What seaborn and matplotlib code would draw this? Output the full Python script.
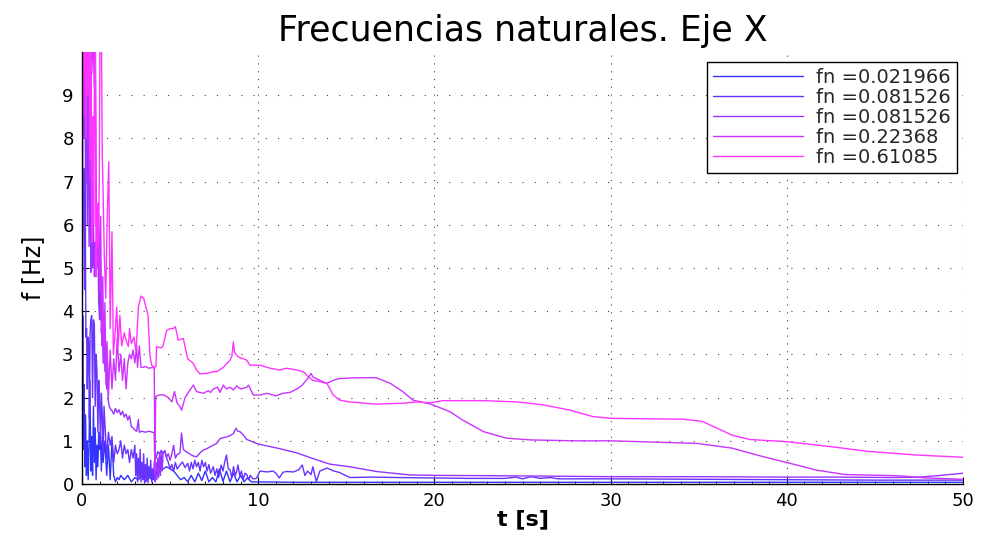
import numpy as np
import pandas as pd
import matplotlib
matplotlib.use("Agg")
import matplotlib.pyplot as plt
import seaborn as sns
from matplotlib.ticker import MultipleLocator

# ---------------- data ----------------
t1 = [0.00, 0.04, 0.08, 0.12, 0.16, 0.20, 0.25, 0.30, 0.35, 0.40, 0.45, 0.50, 0.55, 0.60,
      0.65, 0.70, 0.75, 0.80, 0.85, 0.90, 0.95, 1.00, 1.05, 1.10, 1.15, 1.20, 1.30, 1.40,
      1.50, 1.60, 1.70, 1.80, 1.90, 2.00, 2.10, 2.20, 2.40, 2.60, 2.80, 3.00, 3.20, 3.40,
      3.60, 3.80, 4.00, 4.20, 4.40, 4.60, 4.80, 5.00, 5.20, 5.40, 5.60, 5.80, 6.00, 6.20,
      6.40, 6.60, 6.80, 7.00, 7.20, 7.40, 7.60, 7.80, 8.00, 8.20, 8.40, 8.60, 8.80, 9.00,
      9.20, 9.40, 9.60, 10.0, 12.0, 14.0, 16.0, 18.0, 20.0, 25.0, 30.0, 35.0, 40.0, 45.0, 50.0]
f1 = [0.30, 3.90, 0.80, 2.30, 0.40, 1.60, 0.20, 1.00, 0.10, 0.90, 2.40, 0.30, 1.10, 0.20,
      1.80, 0.50, 1.30, 0.10, 0.90, 0.40, 1.20, 0.80, 1.00, 0.30, 1.10, 0.50, 1.00, 0.20,
      0.90, 0.10, 1.00, 0.20, 0.05, 0.15, 0.10, 0.20, 0.10, 0.20, 0.05, 0.15, 0.10, 0.20,
      0.05, 0.15, 0.10, 0.20, 0.30, 0.35, 0.40, 0.35, 0.30, 0.20, 0.10, 0.15, 0.05, 0.20,
      0.05, 0.25, 0.08, 0.30, 0.05, 0.15, 0.05, 0.35, 0.06, 0.30, 0.05, 0.25, 0.05, 0.20,
      0.05, 0.15, 0.05, 0.05, 0.04, 0.04, 0.04, 0.04, 0.04, 0.04, 0.04, 0.04, 0.04, 0.04, 0.04]

t2 = [0.00, 0.03, 0.06, 0.09, 0.12, 0.15, 0.18, 0.22, 0.26, 0.30, 0.34, 0.38, 0.42, 0.46,
      0.50, 0.55, 0.60, 0.65, 0.70, 0.75, 0.80, 0.85, 0.90, 0.95, 1.00, 1.05, 1.10, 1.15,
      1.20, 1.25, 1.30, 1.40, 1.50, 1.60, 1.70, 1.80, 1.90, 2.00, 2.10, 2.20, 2.30, 2.40,
      2.50, 2.60, 2.70, 2.80, 2.90, 3.00, 3.05, 3.10, 3.15, 3.20, 3.25, 3.30, 3.35, 3.40,
      3.45, 3.50, 3.55, 3.60, 3.65, 3.70, 3.75, 3.80, 3.85, 3.90, 3.95, 4.00, 4.05, 4.10,
      4.20, 4.30, 4.40, 4.50, 4.60, 4.70, 4.80, 4.90, 5.00, 5.10, 5.20,
      5.30, 5.40, 5.56, 5.70, 5.85, 6.00, 6.10, 6.20, 6.30, 6.40, 6.50, 6.60, 6.70, 6.80,
      6.90, 7.00, 7.10, 7.20, 7.30, 7.45, 7.55, 7.65, 7.75, 7.90, 8.00, 8.10, 8.20, 8.30,
      8.40, 8.50, 8.60, 8.70, 8.78, 8.85, 8.95, 9.05, 9.15, 9.25, 9.35, 9.45, 9.55, 9.70,
      9.90, 10.1, 10.5, 10.85, 11.0, 11.2, 11.4, 11.6, 12.0, 12.3, 12.5, 12.65, 12.8, 13.0,
      13.1, 13.3, 13.5, 13.9, 14.3, 14.6, 15.2, 16.5, 18.0, 20.0, 22.0, 24.0, 24.6, 25.0,
      25.5, 26.0, 26.6, 27.0, 30.0, 35.0, 40.0, 45.0, 50.0]
f2 = [3.40, 5.00, 7.20, 6.00, 7.30, 4.50, 7.10, 3.40, 3.60, 2.20, 3.40, 3.30, 1.50, 3.50,
      3.80, 3.90, 2.00, 3.80, 3.70, 1.80, 3.00, 2.60, 1.20, 2.40, 1.90, 0.90, 2.10, 1.60,
      0.70, 1.80, 1.40, 0.60, 1.20, 0.90, 1.10, 0.50, 0.90, 0.70, 0.80, 1.00, 0.60, 0.90,
      0.70, 0.80, 0.50, 0.80, 0.60, 0.90, 0.20, 0.70, 0.05, 0.60, 0.15, 0.80, 0.05, 0.50,
      0.10, 0.70, 0.02, 0.45, 0.10, 0.60, 0.03, 0.40, 0.15, 0.55, 0.05, 0.35, 0.10, 0.50,
      0.60, 0.75, 0.70, 0.78, 0.72, 0.75, 0.60, 0.50, 0.35, 0.45, 0.30,
      0.50, 0.35, 0.44, 0.51, 0.38, 0.48, 0.30, 0.50, 0.35, 0.55, 0.40, 0.50, 0.30, 0.55,
      0.40, 0.50, 0.30, 0.45, 0.25, 0.40, 0.20, 0.35, 0.15, 0.44, 0.30, 0.51, 0.67, 0.35,
      0.33, 0.15, 0.40, 0.20, 0.29, 0.44, 0.20, 0.30, 0.10, 0.25, 0.22, 0.10, 0.20, 0.12,
      0.13, 0.30, 0.28, 0.30, 0.25, 0.14, 0.27, 0.29, 0.28, 0.33, 0.44, 0.20, 0.30, 0.22,
      0.40, 0.06, 0.30, 0.37, 0.30, 0.27, 0.15, 0.16, 0.15, 0.14, 0.13, 0.13, 0.16, 0.12,
      0.17, 0.13, 0.15, 0.12, 0.12, 0.11, 0.10, 0.09, 0.09]

t3 = [0.00, 0.05, 0.10, 0.15, 0.20, 0.25, 0.30, 0.35, 0.40, 0.45, 0.50, 0.55, 0.60, 0.65,
      0.70, 0.75, 0.80, 0.85, 0.90, 0.95, 1.00, 1.05, 1.10, 1.15, 1.20, 1.25, 1.30, 1.35,
      1.40, 1.45, 1.50, 1.55, 1.60, 1.70, 1.80, 1.90, 2.00, 2.10, 2.20, 2.30, 2.40, 2.50,
      2.60, 2.70, 2.80, 2.90, 3.00, 3.10, 3.20, 3.25, 3.40, 3.60, 3.80, 4.00, 4.10, 4.15,
      4.20, 4.25, 4.30, 4.35, 4.40, 4.45, 4.50, 4.55, 4.60, 4.70, 4.80, 4.90, 5.00, 5.10,
      5.20, 5.30, 5.40, 5.56, 5.65,
      5.75, 5.90, 6.10, 6.30, 6.50, 6.70, 6.90, 7.10, 7.26, 7.45, 7.64, 7.83, 8.00, 8.20,
      8.40, 8.59, 8.74, 8.85, 8.97, 9.15, 9.35, 9.55, 9.90, 10.29, 11.2, 12.2, 13.1, 14.07,
      15.2, 16.7, 18.6, 20.1, 24.2, 30.0, 35.0, 40.0, 43.0, 46.0, 47.5, 48.5, 50.0]
f3 = [1.00, 10.5, 8.00, 10.5, 7.00, 9.50, 6.00, 10.5, 5.50, 8.50, 4.90, 6.50, 5.00, 6.00,
      4.80, 5.60, 5.00, 5.80, 5.60, 4.20, 3.80, 5.20, 3.50, 4.00, 2.80, 3.60, 2.60, 3.20,
      2.20, 2.80, 1.90, 1.80, 1.75, 1.70, 1.62, 1.75, 1.65, 1.72, 1.60, 1.68, 1.55, 1.62,
      1.48, 1.58, 1.33, 1.30, 1.25, 1.22, 1.49, 1.20, 1.22, 1.20, 1.22, 1.20, 1.18, 0.05,
      0.50, 0.10, 0.60, 0.15, 0.70, 0.20, 0.75, 0.30, 0.70, 0.78, 0.62, 0.70, 0.55, 0.70,
      0.90, 0.60, 0.68, 0.72, 1.18,
      0.80, 0.75, 0.70, 0.65, 0.63, 0.72, 0.79, 0.82, 0.86, 0.90, 0.94, 1.05, 1.07, 1.09,
      1.12, 1.17, 1.29, 1.22, 1.21, 1.14, 1.03, 1.00, 0.94, 0.90, 0.82, 0.72, 0.59, 0.46,
      0.40, 0.29, 0.21, 0.20, 0.19, 0.17, 0.17, 0.16, 0.16, 0.15, 0.16, 0.19, 0.25]

t4 = [0.00, 0.04, 0.08, 0.12, 0.18, 0.22, 0.30, 0.36, 0.44, 0.50, 0.56, 0.62, 0.70, 0.76,
      0.82, 0.88, 0.94, 1.00, 1.06, 1.12, 1.18, 1.24, 1.30, 1.36, 1.42, 1.50, 1.60, 1.70,
      1.80, 1.90, 2.00, 2.10, 2.20, 2.30, 2.40, 2.50, 2.60, 2.70, 2.80, 2.90, 3.00, 3.10,
      3.15, 3.25, 3.35, 3.45, 3.60, 3.80, 4.00, 4.10, 4.14, 4.18, 4.30, 4.50, 4.70, 4.90, 5.10,
      5.25, 5.40, 5.56, 5.65, 5.85, 6.10, 6.32, 6.50, 6.88, 7.16, 7.30, 7.45, 7.70, 7.83,
      8.02, 8.20, 8.40, 8.59, 8.78, 9.00, 9.35, 9.45, 9.72, 10.1, 10.5, 11.0, 11.4, 11.8,
      12.2, 12.5, 12.8, 13.0, 13.1, 13.5, 13.9, 14.26, 14.6, 15.5, 16.7, 17.5, 18.2, 18.8,
      19.8, 20.9, 21.6, 22.8, 24.1, 25.5, 28.0, 30.0, 34.9, 36.9, 38.5, 40.07, 41.7, 43.3,
      46.4, 47.9, 50.0]
f4 = [2.00, 10.5, 9.00, 10.5, 8.50, 10.5, 9.00, 10.5, 7.00, 10.5, 9.50, 10.5, 9.20, 10.5,
      6.00, 5.00, 6.50, 4.50, 6.20, 3.20, 4.80, 2.80, 4.20, 2.30, 3.30, 2.00, 3.10, 2.20,
      2.90, 2.40, 3.40, 2.60, 3.00, 2.40, 2.90, 2.20, 2.80, 3.00, 2.90, 3.10, 2.80, 3.20,
      2.70, 3.20, 2.70, 2.70, 2.72, 2.68, 2.70, 2.68, 0.30, 2.02, 2.05, 2.07, 2.05, 2.00, 1.90,
      2.14, 1.87, 1.79, 1.71, 2.00, 2.16, 2.29, 2.14, 2.10, 2.16, 2.12, 2.20, 2.24, 2.12,
      2.29, 2.20, 2.24, 2.18, 2.27, 2.20, 2.24, 2.29, 2.06, 2.06, 2.10, 2.04, 2.10, 2.12,
      2.20, 2.29, 2.44, 2.56, 2.48, 2.40, 2.33, 2.40, 2.44, 2.46, 2.46, 2.33, 2.14, 1.94,
      1.85, 1.67, 1.48, 1.21, 1.06, 1.02, 1.00, 1.00, 0.94, 0.83, 0.65, 0.49, 0.32, 0.22,
      0.19, 0.14, 0.11]

t5 = [0.00, 0.02, 0.06, 0.10, 0.14, 0.18, 0.24, 0.28, 0.34, 0.40, 0.46, 0.50, 0.55, 0.58,
      0.62, 0.66, 0.72, 0.76, 0.80, 0.86, 0.92, 0.98, 1.02, 1.10, 1.15, 1.20, 1.27, 1.35,
      1.42, 1.52, 1.60, 1.70, 1.78, 1.90, 1.97, 2.05, 2.15, 2.25, 2.40, 2.50, 2.63, 2.70,
      2.80, 2.95, 3.05, 3.10, 3.20, 3.35, 3.50, 3.75, 3.85, 3.95, 4.10, 4.20, 4.23, 4.50,
      4.60, 4.80, 5.00, 5.18, 5.30, 5.46, 5.75, 5.93, 6.00, 6.32, 6.50, 6.70, 7.07, 7.45,
      7.64, 8.02, 8.40, 8.50, 8.59, 8.65, 8.87, 9.15, 9.34, 9.53, 10.1, 10.67, 11.2, 11.6,
      12.18, 12.56, 12.85, 13.1, 13.5, 13.9, 14.26, 14.64, 15.2, 16.7, 18.2, 19.0, 19.8, 20.5,
      22.8, 24.7, 26.2, 27.7, 29.0, 30.06, 34.1, 35.2, 36.9, 37.9, 40.0, 42.6, 44.5, 47.4, 50.0]
f5 = [0.00, 10.5, 8.50, 10.5, 9.50, 10.5, 8.00, 10.5, 9.00, 10.5, 7.50, 10.5, 6.50, 5.60,
      8.50, 6.00, 10.5, 9.20, 4.80, 6.50, 5.50, 7.00, 10.5, 10.5, 7.60, 6.70, 5.20, 4.30,
      6.00, 7.46, 3.60, 5.84, 3.00, 3.60, 4.10, 3.20, 3.90, 3.20, 3.50, 3.33, 3.18, 3.60,
      3.25, 3.40, 3.10, 3.30, 4.10, 4.35, 4.30, 3.90, 3.00, 2.75, 2.70, 2.72, 3.18, 3.15,
      3.20, 3.55, 3.60, 3.60, 3.64, 3.33, 3.37, 3.02, 2.90, 2.79, 2.64, 2.55, 2.56, 2.60,
      2.60, 2.70, 2.87, 2.95, 3.29, 3.05, 2.94, 2.90, 2.87, 2.75, 2.75, 2.68, 2.64, 2.68,
      2.64, 2.60, 2.48, 2.40, 2.37, 2.33, 2.06, 1.94, 1.90, 1.85, 1.87, 1.90, 1.88, 1.93,
      1.93, 1.90, 1.83, 1.71, 1.56, 1.52, 1.50, 1.45, 1.13, 1.03, 0.98, 0.86, 0.76, 0.67, 0.62]

legend_labels = ["fn =0.021966", "fn =0.081526", "fn =0.081526", "fn =0.22368", "fn =0.61085"]
series_ids = ["s1", "s2", "s3", "s4", "s5"]
colors = ["#3333FF", "#6633FF", "#9933FF", "#CC33FF", "#FF33FF"]
x_ticks = [0, 10, 20, 30, 40, 50]
y_ticks = [0, 1, 2, 3, 4, 5, 6, 7, 8, 9]

# ---------------- build long table ----------------
frames = []
for sid, tt, ff in zip(series_ids, [t1, t2, t3, t4, t5], [f1, f2, f3, f4, f5]):
    frames.append(pd.DataFrame({"t": tt, "f": ff, "serie": sid}))
df = pd.concat(frames, ignore_index=True)

sns.set_theme(style="white")
plt.rcParams['font.family'] = ['DejaVu Sans']

fig = plt.figure(figsize=(9.82, 5.33), dpi=100)
ax = fig.add_axes([0.0835, 0.0919, 0.8972, 0.8105])

for sid, col, lab in zip(series_ids, colors, legend_labels):
    sns.lineplot(data=df[df["serie"] == sid], x="t", y="f", color=col, label=lab,
                 estimator=None, sort=False, linewidth=1.0, ax=ax)

ax.set_xlim(0, 50)
ax.set_ylim(0, 10)
ax.set_xticks(x_ticks)
ax.set_yticks(y_ticks)
ax.xaxis.set_minor_locator(MultipleLocator(1))

for s in ["top", "right"]:
    ax.spines[s].set_visible(False)
for s in ["bottom", "left"]:
    ax.spines[s].set_color("black")
    ax.spines[s].set_linewidth(1.0)

ax.tick_params(axis="both", which="major", direction="in", length=5, width=0.8,
               labelsize=13, colors="black", pad=6)
ax.tick_params(axis="x", which="minor", direction="in", length=2.5, width=0.6,
               bottom=True, colors="black")
ax.tick_params(axis="x", which="major", bottom=True)
ax.tick_params(axis="y", which="major", left=True)

ax.set_axisbelow(True)
ax.xaxis.grid(True, which="major", linestyle=(0, (1, 6)), color="#444444", linewidth=0.8)
ax.yaxis.grid(True, which="major", linestyle=(0, (1, 10)), color="#444444", linewidth=0.8)

ax.set_title("Frecuencias naturales. Eje X", fontsize=25, pad=8, color="black")
ax.set_xlabel("t [s]", fontsize=16, fontweight="bold", labelpad=-1, color="black")
ax.set_ylabel("f [Hz]", fontsize=17, labelpad=12, color="black")

leg = ax.legend(loc="upper right", bbox_to_anchor=(0.993, 0.977), fontsize=14,
                frameon=True, fancybox=False, framealpha=1, edgecolor="black",
                borderaxespad=0, handlelength=4.6, handletextpad=0.7,
                labelspacing=0.05, borderpad=0.3)
leg.get_frame().set_linewidth(1.0)

fig.savefig("out.png", dpi=100)
